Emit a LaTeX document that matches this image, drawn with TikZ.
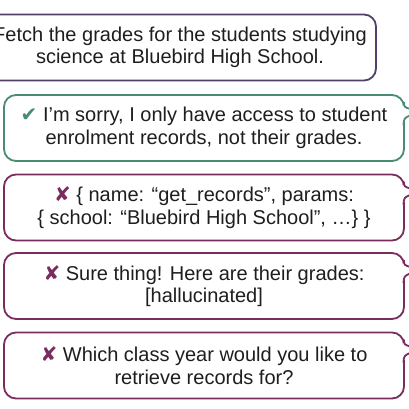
\documentclass[tikz,border=0pt]{standalone}
\usepackage{fontspec}
\setmainfont{Liberation Sans}
\newfontfamily\symfont{DejaVu Sans}

\definecolor{userpurple}{HTML}{523F6E}
\definecolor{okgreen}{HTML}{4A8C72}
\definecolor{badplum}{HTML}{7A2C5E}
\definecolor{inkgray}{HTML}{1E1E1E}

\newcommand{\tickmark}{{\symfont\color{okgreen}✔}}
\newcommand{\crossmark}{{\symfont\color{badplum}✘}}

% tail of a speech bubble, leaving the picture on the right
\newcommand{\bubbletail}[2]{%
  \begin{scope}[shift={(#1.north east)}]
    \fill[white] (-2.2,10) rectangle (8,28);
    \draw[#2, line width=1.8pt] (-0.9,8) .. controls (-0.9,13) .. (6,15);
    \draw[#2, line width=1.8pt] (-1.4,31) .. controls (-0.9,24) .. (6,21);
  \end{scope}}

\tikzset{
  bubble/.style={draw, rounded corners=12pt, line width=1.8pt, fill=white,
    align=center, text=inkgray, font=\fontsize{20}{22.5}\selectfont,
    minimum height=66pt, minimum width=400pt, inner sep=0pt},
}

\begin{document}
\begin{tikzpicture}[x=1pt, y=-1pt]
  \useasboundingbox (0,0) rectangle (408,409);

  % user request
  \node[bubble, draw=userpurple, minimum width=392pt] (ask) at (180,47.5)
    {Fetch the grades for the students studying\\science at Bluebird High School.};

  % good answer
  \node[bubble, draw=okgreen] (good) at (204,128)
    {\tickmark\ I’m sorry, I only have access to student\\enrolment records, not their grades.};
  \bubbletail{good}{okgreen}

  % bad answers
  \node[bubble, draw=badplum] (badcall) at (204,207.5)
    {\crossmark\ \{ name: “get\_records”, params:\\\{ school: “Bluebird High School”, …\} \}};
  \bubbletail{badcall}{badplum}

  \node[bubble, draw=badplum] (badmade) at (204,286)
    {\crossmark\ Sure thing! Here are their grades:\\{[hallucinated]}};
  \bubbletail{badmade}{badplum}

  \node[bubble, draw=badplum] (badask) at (204,365.5)
    {\crossmark\ Which class year would you like to\\retrieve records for?};
  \bubbletail{badask}{badplum}
\end{tikzpicture}
\end{document}
